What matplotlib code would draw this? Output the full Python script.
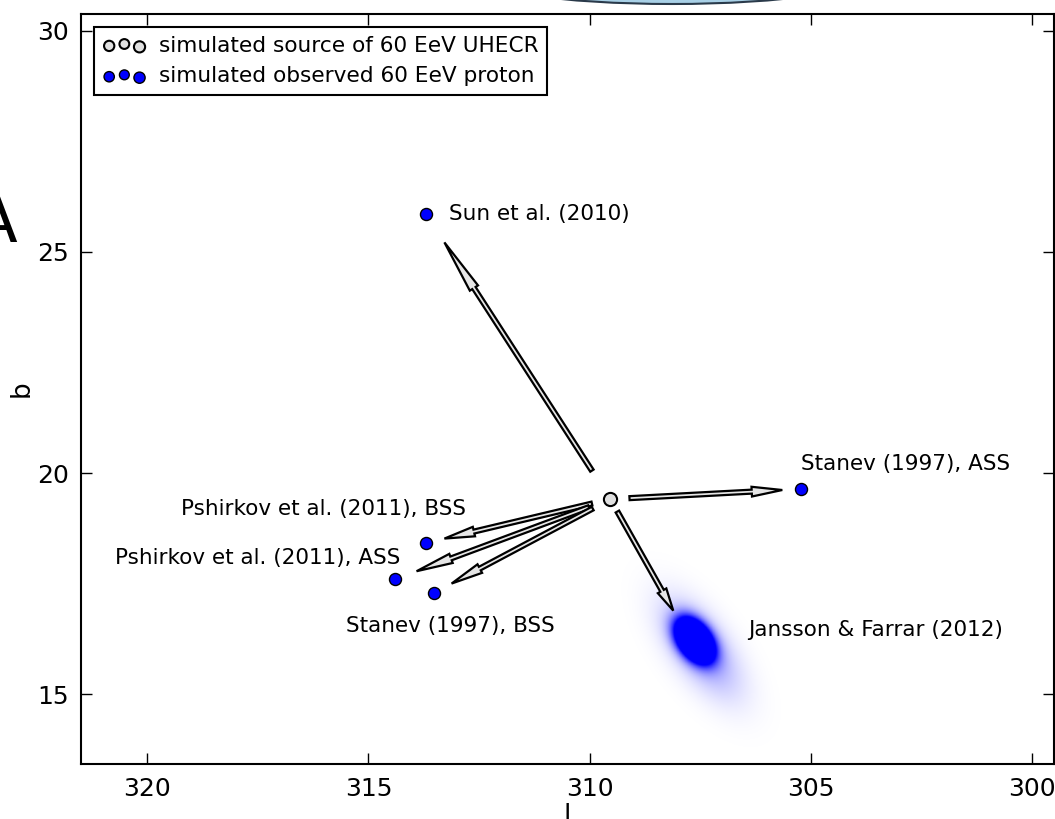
import numpy as np
import matplotlib
matplotlib.use('Agg')
import matplotlib.pyplot as plt
from matplotlib.patches import Ellipse
from matplotlib.legend_handler import HandlerPathCollection

# galactic coordinates (deg) of the simulated source
src_l, src_b = 309.53, 19.41

# arrival directions of the 60 EeV proton for each GMF model
models = ['Sun et al. (2010)', 'Stanev (1997), ASS', 'Pshirkov et al. (2011), BSS',
          'Pshirkov et al. (2011), ASS', 'Stanev (1997), BSS']
obs_l = [313.70, 305.21, 313.70, 314.40, 313.52]
obs_b = [25.86, 19.64, 18.42, 17.60, 17.29]

# Jansson & Farrar (2012): spread of arrival directions
jf_name = 'Jansson & Farrar (2012)'
jf_peak = (307.62, 16.22)
jf_mean = (307.95, 16.61)

# where the model names go
lab_l = [313.18, 305.21, 312.80, 314.27, 315.51, 306.41]
lab_b = [25.86, 20.20, 19.19, 18.08, 16.54, 16.45]
lab_ha = ['left', 'left', 'right', 'right', 'left', 'left']

fig = plt.figure(figsize=(10.55, 8.19), dpi=100)
ax = fig.add_axes([0.0768, 0.067, 0.9222, 0.916])

# JF12 arrival-direction density
lg = np.linspace(305.0, 310.5, 400)
bg = np.linspace(13.5, 19.0, 400)
L, B = np.meshgrid(lg, bg)
ux, uy = -0.586, -0.810
dl = L - jf_peak[0]
db = B - jf_peak[1]
along = dl * ux + db * uy
perp = -dl * uy + db * ux
g1 = np.exp(-0.5 * (along / 0.33) ** 2 - 0.5 * (perp / 0.21) ** 2)
g2 = 0.10 * np.exp(-0.5 * ((along - 0.25) / 0.85) ** 2 - 0.5 * (perp / 0.40) ** 2)
rgba = np.zeros(L.shape + (4,))
rgba[..., 2] = 1.0
rgba[..., 3] = np.clip(4.0 * (g1 + g2), 0, 1)
ax.imshow(rgba, extent=[lg[0], lg[-1], bg[0], bg[-1]], origin='lower',
          aspect='auto', interpolation='bilinear', zorder=1)

# deflection arrows, drawn from 10% to 90% of the way to each arrival direction
tgt_l = obs_l + [jf_mean[0]]
tgt_b = obs_b + [jf_mean[1]]
for tl, tb in zip(tgt_l, tgt_b):
    dx = tl - src_l
    dy = tb - src_b
    x0 = src_l + 0.1 * dx
    y0 = src_b + 0.1 * dy
    length = 0.8 * np.hypot(dx, dy)
    ax.arrow(x0, y0, 0.8 * dx, 0.8 * dy, width=0.09, head_width=0.22,
             head_length=0.2 * length, length_includes_head=True,
             fc='#e6e6e6', ec='black', lw=1.6, zorder=3)

sc_src = ax.scatter([src_l], [src_b], s=90, c='#e0e0e0', edgecolors='black',
                    linewidths=1.5, zorder=5, label='simulated source of 60 EeV UHECR')
sc_obs = ax.scatter(obs_l, obs_b, s=75, c='blue', edgecolors='black',
                    linewidths=1.0, zorder=5, label='simulated observed 60 EeV proton')

for name, x, y, ha in zip(models + [jf_name], lab_l, lab_b, lab_ha):
    ax.text(x, y, name, ha=ha, va='center', fontsize=15.5)

ax.set_xlim(321.5, 299.5)
ax.set_ylim(13.42, 30.38)
ax.set_xticks([320, 315, 310, 305, 300])
ax.set_yticks([15, 20, 25, 30])
ax.tick_params(direction='in', top=True, right=True, length=8, width=1,
               labelsize=18, pad=9)
for sp in ax.spines.values():
    sp.set_linewidth(1.5)

ax.set_xlabel('l', fontsize=19)
ax.set_ylabel('b', fontsize=19)
ax.xaxis.set_label_coords(0.5, -0.052)
ax.yaxis.set_label_coords(-0.048, 0.5)

hm = {sc_src: HandlerPathCollection(sizes=[55, 50, 65]),
      sc_obs: HandlerPathCollection(sizes=[55, 50, 65])}
leg = ax.legend(handles=[sc_src, sc_obs], loc='upper left', scatterpoints=3,
                scatteryoffsets=[0.375, 0.5, 0.3125], fontsize=15.6,
                handler_map=hm, fancybox=False, framealpha=1,
                borderaxespad=0.6, handletextpad=0.6, borderpad=0.4)
leg.get_frame().set_edgecolor('black')
leg.get_frame().set_linewidth(1.5)

# neighbouring panel
fig.add_artist(Ellipse((672 / 1055, 845 / 819), width=404 / 1055, height=60 / 819,
                       transform=fig.transFigure, fc='#a8d0e6', ec='#2a3a4a',
                       lw=1.5, clip_on=False))
fig.text(-26 / 1055, 577 / 819, 'A', fontsize=46, ha='left', va='baseline')

fig.savefig('out.png', dpi=100)
